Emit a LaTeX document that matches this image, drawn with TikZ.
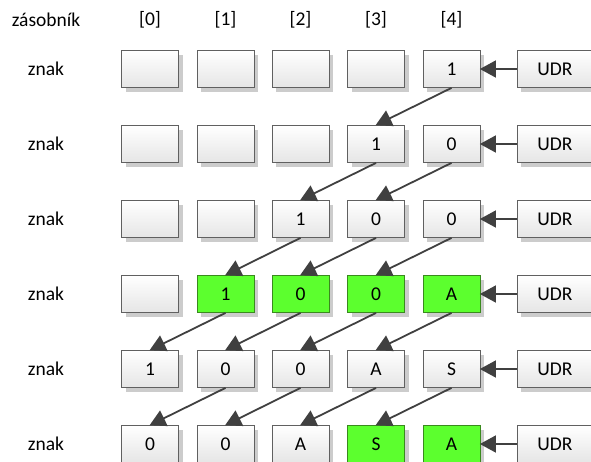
\documentclass[tikz,border=0pt]{standalone}
\usepackage{fontspec}
\setmainfont{Carlito}
\usetikzlibrary{arrows.meta,shadows}
\definecolor{boxline}{HTML}{606060}
\definecolor{arrowc}{HTML}{404040}
\definecolor{hlgreen}{HTML}{5CFF2E}
\definecolor{hlline}{HTML}{3A8A1E}
\tikzset{
  cell/.style={draw=boxline, line width=0.8pt, minimum width=57pt, minimum height=37pt,
    inner sep=0pt, top color=white, bottom color=black!10,
    drop shadow={shadow xshift=4pt, shadow yshift=-4pt, fill=black!20, opacity=1}},
  hl/.style={cell, draw=hlline, top color=hlgreen, bottom color=hlgreen, fill=hlgreen},
  udr/.style={cell, minimum width=76pt},
  lbl/.style={inner sep=0pt},
  arr/.style={draw=arrowc, line width=1.8pt, -{Triangle[length=16pt,width=17pt]}, shorten >=-0.5pt}
}
\begin{document}
\begin{tikzpicture}[x=1pt,y=-1pt, font=\fontsize{19.5}{23}\selectfont]
\useasboundingbox (0,0) rectangle (591,461);
\node[lbl] (zas) at (46,20) {zásobník};
\foreach \c/\x in {0/150,1/225.5,2/300.5,3/376,4/451.5}{
  \node[lbl] (h\c) at (\x,20) {[\c]};
}
% rows
\foreach \r/\y in {1/69,2/144,3/219,4/294,5/369,6/444}{
  \node[lbl] (z\r) at (46,\y) {znak};
  \node[udr] (u\r) at (555,\y) {UDR};
}
% row 1
\node[cell] (c10) at (150,69) {};
\node[cell] (c11) at (225.5,69) {};
\node[cell] (c12) at (300.5,69) {};
\node[cell] (c13) at (376,69) {};
\node[cell] (c14) at (451.5,69) {1};
% row 2
\node[cell] (c20) at (150,144) {};
\node[cell] (c21) at (225.5,144) {};
\node[cell] (c22) at (300.5,144) {};
\node[cell] (c23) at (376,144) {1};
\node[cell] (c24) at (451.5,144) {0};
% row 3
\node[cell] (c30) at (150,219) {};
\node[cell] (c31) at (225.5,219) {};
\node[cell] (c32) at (300.5,219) {1};
\node[cell] (c33) at (376,219) {0};
\node[cell] (c34) at (451.5,219) {0};
% row 4
\node[cell] (c40) at (150,294) {};
\node[hl] (c41) at (225.5,294) {1};
\node[hl] (c42) at (300.5,294) {0};
\node[hl] (c43) at (376,294) {0};
\node[hl] (c44) at (451.5,294) {A};
% row 5
\node[cell] (c50) at (150,369) {1};
\node[cell] (c51) at (225.5,369) {0};
\node[cell] (c52) at (300.5,369) {0};
\node[cell] (c53) at (376,369) {A};
\node[cell] (c54) at (451.5,369) {S};
% row 6
\node[cell] (c60) at (150,444) {0};
\node[cell] (c61) at (225.5,444) {0};
\node[cell] (c62) at (300.5,444) {A};
\node[hl] (c63) at (376,444) {S};
\node[hl] (c64) at (451.5,444) {A};
% UDR arrows
\foreach \r in {1,...,6}{
  \draw[arr] (u\r.west) -- (c\r4.east);
}
% diagonal arrows
\draw[arr] (c14.south) -- (c23.north);
\foreach \a/\b in {3/2,4/3}{ \draw[arr] (c2\a.south) -- (c3\b.north); }
\foreach \a/\b in {2/1,3/2,4/3}{ \draw[arr] (c3\a.south) -- (c4\b.north); }
\foreach \a/\b in {1/0,2/1,3/2,4/3}{ \draw[arr] (c4\a.south) -- (c5\b.north); }
\foreach \a/\b in {1/0,2/1,3/2,4/3}{ \draw[arr] (c5\a.south) -- (c6\b.north); }
\end{tikzpicture}
\end{document}
